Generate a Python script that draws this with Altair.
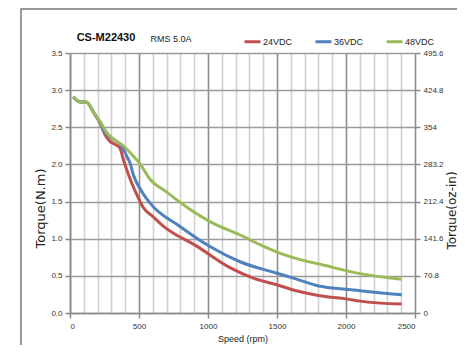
import altair as alt
import pandas as pd

# ---- data ----
series_names = ["24VDC", "36VDC", "48VDC"]
series_colors = ["#c0504d", "#4f81bd", "#9bbb59"]

speed_24 = [24, 72, 116, 181, 217, 254, 290, 326, 362, 386, 411, 447, 495, 531, 600, 676, 918, 1159, 1328, 1500, 1618, 1860, 2000, 2101, 2403]
torque_24 = [2.91, 2.84, 2.84, 2.67, 2.56, 2.40, 2.31, 2.27, 2.22, 2.07, 1.93, 1.75, 1.55, 1.42, 1.30, 1.17, 0.90, 0.61, 0.47, 0.38, 0.31, 0.22, 0.19, 0.16, 0.12]

speed_36 = [24, 72, 116, 181, 217, 241, 290, 338, 374, 411, 435, 459, 519, 580, 797, 1014, 1232, 1500, 1618, 1812, 2000, 2403]
torque_36 = [2.91, 2.84, 2.84, 2.67, 2.57, 2.47, 2.37, 2.31, 2.25, 2.11, 2.02, 1.86, 1.64, 1.48, 1.165, 0.895, 0.69, 0.535, 0.47, 0.36, 0.32, 0.245]

speed_48 = [24, 72, 116, 181, 217, 266, 314, 387, 450, 507, 580, 700, 797, 1014, 1232, 1377, 1500, 1618, 1860, 2000, 2101, 2403]
torque_48 = [2.91, 2.84, 2.84, 2.67, 2.58, 2.43, 2.34, 2.25, 2.13, 2.01, 1.80, 1.63, 1.49, 1.23, 1.05, 0.92, 0.82, 0.745, 0.635, 0.57, 0.53, 0.455]

x_ticks = list(range(0, 2600, 100))
y_ticks = [0.0, 0.5, 1.0, 1.5, 2.0, 2.5, 3.0, 3.5]
oz_ticks = [0, 70.8, 141.6, 212.4, 283.2, 354, 424.8, 495.6]
NM_TO_OZIN = 141.6

rows = []
for name, sp, tq in zip(series_names, [speed_24, speed_36, speed_48], [torque_24, torque_36, torque_48]):
    for s, t in zip(sp, tq):
        rows.append({"series": name, "speed": s, "torque": t})
df = pd.DataFrame(rows)

LABEL_FONT = "Liberation Sans Narrow, Liberation Sans"

x_enc = alt.X(
    "speed:Q",
    scale=alt.Scale(domain=[0, 2500], nice=False, zero=False),
    axis=alt.Axis(
        values=x_ticks,
        title="Speed (rpm)",
        titleFont=LABEL_FONT, titleFontSize=9, titleFontWeight="normal", titleColor="#222",
        titlePadding=4,
        labelExpr="datum.value % 500 === 0 ? datum.label : ''",
        labelFont=LABEL_FONT, labelFontSize=8, labelColor="#333", labelPadding=4,
        grid=True,
        gridColor={"condition": {"test": "datum.value % 500 === 0", "value": "#8c8c8c"}, "value": "#d0d0d0"},
        gridWidth=1.6,
        tickSize={"condition": {"test": "datum.value % 500 === 0", "value": 5}, "value": 0},
        tickColor="#888", tickWidth=1.5,
        domainColor="#888", domainWidth=1.5,
        format="d",
    ),
)

lines = alt.Chart(df).mark_line(strokeWidth=3, interpolate="monotone").encode(
    x=x_enc,
    y=alt.Y(
        "torque:Q",
        scale=alt.Scale(domain=[0, 3.5], nice=False),
        axis=alt.Axis(
            values=y_ticks, format=".1f", orient="left",
            title="Torque(N.m)",
            titleFont="DejaVu Sans", titleFontSize=13, titleFontWeight="normal", titleColor="#222",
            titleAngle=270, titleX=-30, titleY=155, titleAlign="center", titleBaseline="middle",
            labelFont=LABEL_FONT, labelFontSize=8, labelColor="#333", labelPadding=3,
            grid=True, gridColor="#9a9a9a", gridWidth=1.6,
            tickSize=5, tickColor="#888", tickWidth=1.5,
            domainColor="#8c8c8c", domainWidth=1.6,
        ),
    ),
    color=alt.Color(
        "series:N",
        scale=alt.Scale(domain=series_names, range=series_colors),
        legend=alt.Legend(
            title=None, orient="none", direction="horizontal",
            legendX=173, legendY=-21,
            symbolType="stroke", symbolSize=256, symbolStrokeWidth=3,
            labelFont=LABEL_FONT, labelFontSize=9, labelColor="#222", labelOffset=1,
            columnPadding=16,
        ),
    ),
    detail="series:N",
)

right = alt.Chart(df).transform_filter(
    alt.datum.series == "48VDC"
).transform_calculate(
    ozin="datum.torque * %f" % NM_TO_OZIN
).mark_line(opacity=0).encode(
    x=x_enc,
    y=alt.Y(
        "ozin:Q",
        scale=alt.Scale(domain=[0, 495.6], nice=False),
        axis=alt.Axis(
            values=oz_ticks, orient="right",
            labelExpr="datum.value",
            title="Torque(oz-in)",
            titleFont="DejaVu Sans", titleFontSize=12, titleFontWeight="normal", titleColor="#222",
            titleAngle=270, titleX=36, titleY=157, titleAlign="center", titleBaseline="middle",
            labelFont=LABEL_FONT, labelFontSize=8, labelColor="#333", labelPadding=3,
            grid=False, tickSize=5, tickColor="#888", tickWidth=1.5,
            domain=False,
        ),
    ),
)

title_df = pd.DataFrame({"t": ["CS-M22430"]})
sub_df = pd.DataFrame({"t": ["RMS 5.0A"]})
title_mark = alt.Chart(title_df).mark_text(
    font=LABEL_FONT, fontSize=11, fontWeight="bold", color="#111", align="center", baseline="middle"
).encode(x=alt.value(36), y=alt.value(-15), text="t:N")
sub_mark = alt.Chart(sub_df).mark_text(
    font=LABEL_FONT, fontSize=9, color="#222", align="center", baseline="middle"
).encode(x=alt.value(101), y=alt.value(-14), text="t:N")

frame = alt.Chart(title_df).mark_rect(filled=False, fillOpacity=0, stroke="#7a7a7a", strokeWidth=1.5).encode(
    x=alt.value(-49), x2=alt.value(600), y=alt.value(-44), y2=alt.value(600)
)

chart = alt.layer(lines, right, title_mark, sub_mark, frame).resolve_scale(
    y="independent"
).properties(
    width=345, height=260,
    autosize=alt.AutoSizeParams(type="none"),
    padding={"left": 62, "top": 45, "right": 42, "bottom": 32},
    background="white",
).configure_view(strokeWidth=0)

chart.save("out.html", embed_options={"renderer": "svg", "actions": False})
